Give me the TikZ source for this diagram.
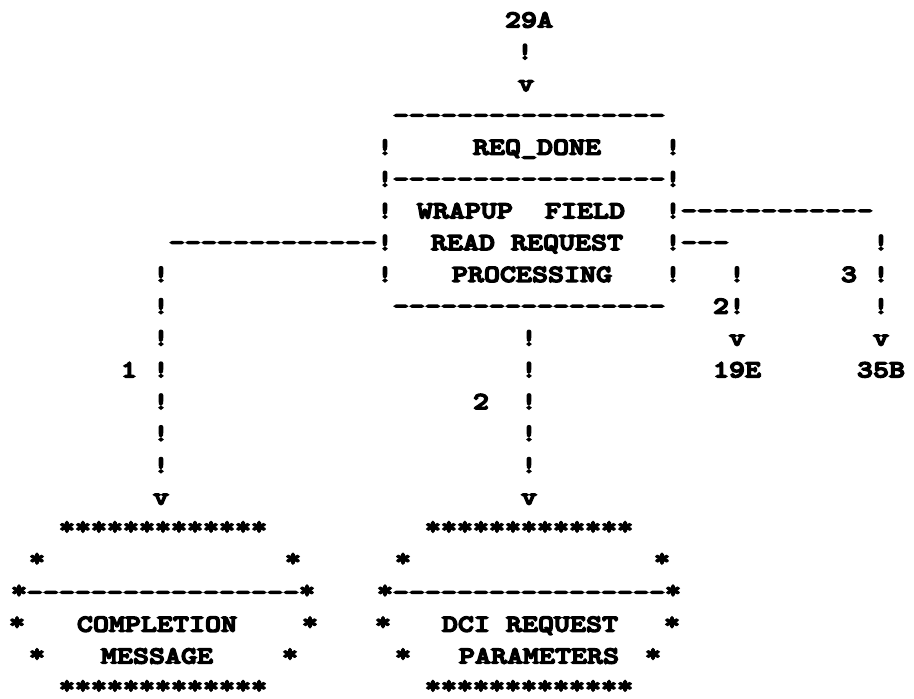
\documentclass[tikz,border=0pt]{standalone}
\usepackage{fontspec}
\setmonofont{lmmonolt10-bold.otf}[FakeBold=6, FakeStretch=1.25]
\tikzset{
  ch/.style={font=\ttfamily\fontsize{24.4}{30}\selectfont, inner sep=0pt, outer sep=0pt, anchor=base, text=black},
  ast/.style={ch, yshift=2pt},
}
\begin{document}
\begin{tikzpicture}
\useasboundingbox[fill=white] (0,0) rectangle (914pt,-699pt);
\begin{scope}[x=1pt, y=-31.8pt, yshift=-27.5pt]
% entry 29A
\node[ch] (a29) at (529,0) {29A};
\node[ch] (a29b) at (525,1) {!};
\node[ch] (a29v) at (526,2) {v};
% top box
\node[ch] (bt) at (529,3) {-----------------};
\node[ch] (b4l) at (385,4) {!};
\node[ch] (b4t) at (537,4) {REQ\_DONE};
\node[ch] (b4r) at (673,4) {!};
\node[ch] (b5l) at (385,5) {!};
\node[ch] (b5d) at (529,5) {-----------------};
\node[ch] (b5r) at (673,5) {!};
\node[ch] (b6l) at (385,6) {!};
\node[ch] (b6t) at (521,6) {WRAPUP\ \ FIELD};
\node[ch] (b6r) at (673,6) {!};
\node[ch] (r6d) at (777,6) {------------};
\node[ch] (l7d) at (273,7) {-------------};
\node[ch] (b7l) at (385,7) {!};
\node[ch] (b7t) at (527,7) {READ REQUEST};
\node[ch] (b7r) at (673,7) {!};
\node[ch] (r7d) at (705,7) {---};
\node[ch] (c3a) at (881,7) {!};
\node[ch] (c1a) at (161,8) {!};
\node[ch] (b8l) at (385,8) {!};
\node[ch] (b8t) at (532,8) {PROCESSING};
\node[ch] (b8r) at (673,8) {!};
\node[ch] (c2ra) at (737,8) {!};
\node[ch] (l3) at (849,8) {3};
\node[ch] (c3b) at (881,8) {!};
\node[ch] (c1b) at (161,9) {!};
\node[ch] (bb) at (529,9) {-----------------};
\node[ch] (l2r) at (721,9) {2};
\node[ch] (c2rb) at (737,9) {!};
\node[ch] (c3c) at (881,9) {!};
% connectors
\node[ch] (c1c) at (161,10) {!};
\node[ch] (c2a) at (529,10) {!};
\node[ch] (v19) at (737,10) {v};
\node[ch] (v35) at (881,10) {v};
\node[ch] (l1) at (129,11) {1};
\node[ch] (c1d) at (161,11) {!};
\node[ch] (c2b) at (529,11) {!};
\node[ch] (t19) at (737,11) {19E};
\node[ch] (t35) at (881,11) {35B};
\node[ch] (c1e) at (161,12) {!};
\node[ch] (l2) at (481,12) {2};
\node[ch] (c2c) at (529,12) {!};
\node[ch] (c1f) at (161,13) {!};
\node[ch] (c2d) at (529,13) {!};
\node[ch] (c1g) at (161,14) {!};
\node[ch] (c2e) at (529,14) {!};
\node[ch] (v1) at (161,15) {v};
\node[ch] (v2) at (529,15) {v};
% bottom left box
\node[ast] (L16) at (163,16) {*************};
\node[ast] (L17a) at (37,17) {*};
\node[ast] (L17b) at (293,17) {*};
\node[ast] (L18a) at (19,18) {*};
\node[ch] (L18d) at (163,18) {-----------------};
\node[ast] (L18b) at (307,18) {*};
\node[ast] (L19a) at (17,19) {*};
\node[ch] (L19t) at (157,19) {COMPLETION};
\node[ast] (L19b) at (310,19) {*};
\node[ast] (L20a) at (37,20) {*};
\node[ch] (L20t) at (157,20) {MESSAGE};
\node[ast] (L20b) at (290,20) {*};
\node[ast] (L21) at (163,21) {*************};
% bottom right box
\node[ast] (R16) at (529,16) {*************};
\node[ast] (R17a) at (403,17) {*};
\node[ast] (R17b) at (662,17) {*};
\node[ast] (R18a) at (385,18) {*};
\node[ch] (R18d) at (529,18) {-----------------};
\node[ast] (R18b) at (673,18) {*};
\node[ast] (R19a) at (383,19) {*};
\node[ch] (R19t) at (530,19) {DCI REQUEST};
\node[ast] (R19b) at (672,19) {*};
\node[ast] (R20a) at (403,20) {*};
\node[ch] (R20t) at (539,20) {PARAMETERS};
\node[ast] (R20b) at (653,20) {*};
\node[ast] (R21) at (529,21) {*************};
\end{scope}
\end{tikzpicture}
\end{document}
